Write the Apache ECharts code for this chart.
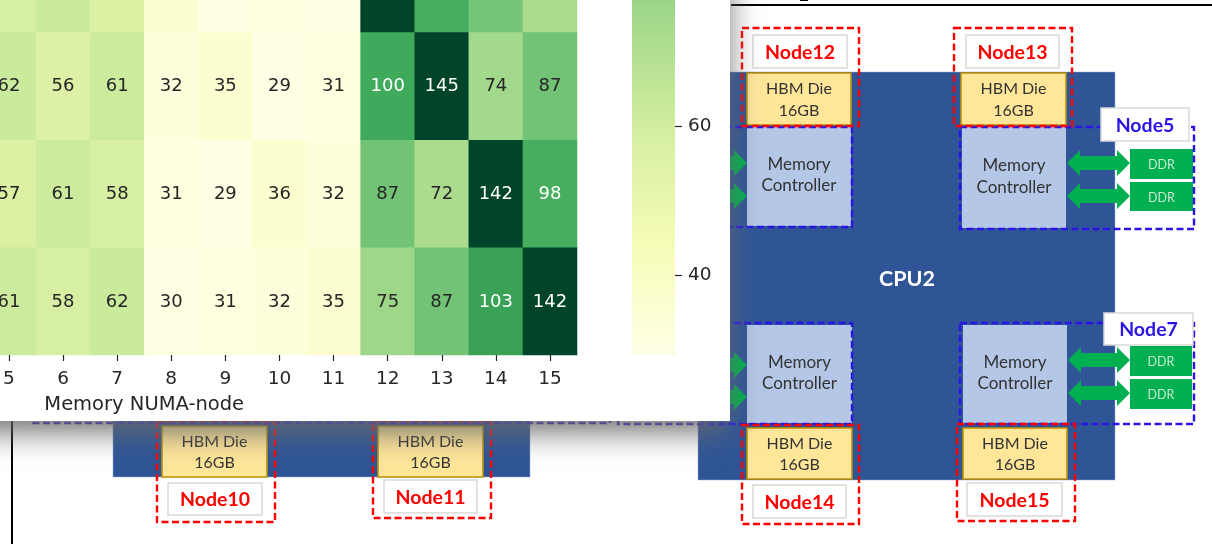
<!DOCTYPE html>
<html>
<head>
<meta charset="utf-8">
<style>html,body{margin:0;padding:0;background:#fff;overflow:hidden}#main{width:1212px;height:544px}</style>
<script src="https://cdn.jsdelivr.net/npm/echarts@6/dist/echarts.min.js"></script>
</head>
<body>
<div id="main"></div>
<script>
var nodeLabels = ['0','1','2','3','4','5','6','7','8','9','10','11','12','13','14','15'];
var rowLabels = ['15','14','13','12'];   // bottom to top, upper rows are cropped in the picture
var firstCol = 5;   // columns 0-4 are cropped too
var row12 = [58, 62, 57, 35, 30, 31, 30, 144, 98, 86, 72];  // only colours visible, estimated
var row13 = [62, 56, 61, 32, 35, 29, 31, 100, 145, 74, 87];
var row14 = [57, 61, 58, 31, 29, 36, 32, 87, 72, 142, 98];
var row15 = [61, 58, 62, 30, 31, 32, 35, 75, 87, 103, 142];
var ylgn = ['#ffffe5','#f7fcb9','#d9f0a3','#addd8e','#78c679','#41ab5d','#238443','#006837','#004529'];

var font = 'Lato';
var cells = [];
[row15, row14, row13, row12].forEach(function(row, r) {
    row.forEach(function(v, c) {
        cells.push({
            value: [c + firstCol, r, v],
            label: {color: v >= 95 ? '#ffffff' : '#262626'}
        });
    });
});

// diagram shapes, all behind the heatmap panel
var shapes = [];
function rect(x, y, w, h, fill, stroke, lw, dash, z) {
    shapes.push({
        type: 'rect', z: z || 0, silent: true,
        shape: {x: x, y: y, width: w, height: h},
        style: {fill: fill || 'transparent', stroke: stroke || null, lineWidth: lw || 0, lineDash: dash || null}
    });
}
function text(cx, cy, s, color, size, weight, z) {
    shapes.push({
        type: 'text', z: z || 0, silent: true, x: cx, y: cy,
        style: {text: s, fill: color, font: (weight || 'normal') + ' ' + size + 'px ' + font, align: 'center', verticalAlign: 'middle'}
    });
}
function cpu(x, y, w, h) { rect(x, y, w, h, '#2f5597', '#8faadc', 0.5); }
function hbm(x, y, w, h) {
    rect(x, y, w, h, '#ffe699', '#bf9000', 1.5);
    text(x + w / 2, y + h * 0.31, 'HBM Die', '#333333', 16);
    text(x + w / 2, y + h * 0.73, '16GB', '#333333', 16);
}
function ctrl(x, y, w, h) {
    rect(x, y, w, h, '#b4c7e7');
    text(x + w / 2, y + h * 0.38, 'Memory', '#333333', 17);
    text(x + w / 2, y + h * 0.595, 'Controller', '#333333', 17);
}
function nodeLabel(x, y, w, h, s, color) {
    rect(x, y, w, h, '#ffffff', '#d9d9d9', 1.5);
    text(x + w / 2, y + h / 2 + 1, s, color, 19.5, 'bold');
}
function ddr(x, y, w, h) {
    rect(x, y, w, h, '#00b050');
    text(x + w / 2, y + h / 2 + 1, 'DDR', '#c6e8d2', 12.5);
}
function arrow(x1, x2, cy) {
    shapes.push({
        type: 'polygon', z: 0, silent: true,
        shape: {points: [[x1, cy], [x1 + 13, cy - 13], [x1 + 13, cy - 7], [x2 - 13, cy - 7], [x2 - 13, cy - 13], [x2, cy],
            [x2 - 13, cy + 13], [x2 - 13, cy + 7], [x1 + 13, cy + 7], [x1 + 13, cy + 13]]},
        style: {fill: '#00b050'}
    });
}
var red = '#ff0000', blue = '#2a14e6', dash = [7, 3.5];

cpu(113, 250, 417, 227);
cpu(698, 72, 417, 408);
text(907, 279, 'CPU2', '#ffffff', 21.5, 'bold');

ctrl(747, 127, 104, 99);
ctrl(962, 127, 104, 101);
ctrl(747, 325, 105, 98);
ctrl(963, 325, 104, 98);
hbm(747, 73, 104, 52);
hbm(961, 73, 105, 52);
hbm(747, 428, 105, 51);
hbm(963, 428, 104, 51);
hbm(162, 426, 105, 51);
hbm(378, 426, 105, 51);

arrow(1067, 1130, 163);
arrow(1067, 1130, 196);
arrow(1068, 1130, 360);
arrow(1068, 1130, 393);
arrow(640, 747, 163);
arrow(640, 747, 196);
arrow(640, 747, 365);
arrow(640, 747, 397);
ddr(1130, 149, 63, 30);
ddr(1130, 182, 63, 29);
ddr(1130, 346, 62, 30);
ddr(1130, 379, 62, 30);

rect(620, 127, 232, 100, null, blue, 2.4, dash);
rect(960, 127, 234, 102, null, blue, 2.4, dash);
rect(618, 323, 234, 101, null, blue, 2.4, dash);
rect(960, 323, 234, 101, null, blue, 2.4, dash);
rect(33, 300, 577, 123, null, blue, 2.4, dash);

rect(742, 28, 117, 98, null, red, 2.4, dash);
rect(954, 28, 118, 98, null, red, 2.4, dash);
rect(742, 425, 117, 99, null, red, 2.4, dash);
rect(957, 424, 118, 97, null, red, 2.4, dash);
rect(157, 421, 118, 101, null, red, 2.4, dash);
rect(373, 421, 118, 97, null, red, 2.4, dash);

nodeLabel(753, 35, 94, 33, 'Node12', red);
nodeLabel(966, 35, 93, 33, 'Node13', red);
nodeLabel(753, 485, 93, 33, 'Node14', red);
nodeLabel(967, 483, 95, 33, 'Node15', red);
nodeLabel(168, 483, 94, 32, 'Node10', red);
nodeLabel(384, 480, 93, 33, 'Node11', red);
nodeLabel(1101, 108, 88, 33, 'Node5', blue);
nodeLabel(1104, 313, 89, 32, 'Node7', blue);

rect(731, 4, 481, 2, '#000000');
rect(800, 0, 8, 1, '#000000');
rect(11, 421, 2, 123, '#000000');

// white panel of the screenshot lying on top, with its drop shadow
shapes.push({
    type: 'rect', z: 1, silent: true,
    shape: {x: -60, y: -60, width: 790, height: 481},
    style: {fill: '#ffffff', shadowColor: 'rgba(105,105,105,1)', shadowBlur: 30, shadowOffsetX: -3, shadowOffsetY: 10}
});

var option = {
    animation: false,
    backgroundColor: '#ffffff',
    textStyle: {fontFamily: 'DejaVu Sans'},
    graphic: {elements: shapes},
    grid: [
        {left: -288.6, top: -75.7, width: 865.6, height: 430.7, containLabel: false, outerBoundsMode: 'none'},
        {left: 632, top: -470, width: 43, height: 745, containLabel: false, outerBoundsMode: 'none'}
    ],
    xAxis: [
        {
            type: 'category', gridIndex: 0, z: 5, data: nodeLabels,
            name: 'Memory NUMA-node', nameLocation: 'middle', nameGap: 40,
            nameTextStyle: {color: '#262626', fontSize: 19.5, fontFamily: 'DejaVu Sans'},
            axisLine: {show: false},
            axisTick: {show: true, alignWithLabel: true, length: 6, lineStyle: {color: '#262626', width: 1.2}},
            axisLabel: {interval: 0, color: '#262626', fontSize: 18.5, margin: 15, fontFamily: 'DejaVu Sans'},
            splitLine: {show: false}, splitArea: {show: false}
        },
        {type: 'value', gridIndex: 1, show: false}
    ],
    yAxis: [
        {
            type: 'category', gridIndex: 0, z: 5, data: rowLabels, show: false,
            splitLine: {show: false}, splitArea: {show: false}
        },
        {
            type: 'value', gridIndex: 1, z: 5, position: 'right', min: 40, max: 140, interval: 20,
            axisLine: {show: false, onZero: false},
            axisTick: {show: true, length: 7, lineStyle: {color: '#262626', width: 1.2}},
            axisLabel: {color: '#262626', fontSize: 18.5, margin: 13, fontFamily: 'DejaVu Sans'},
            splitLine: {show: false}
        }
    ],
    visualMap: {
        type: 'continuous', min: 29, max: 142, seriesIndex: 0, dimension: 2,
        calculable: false, realtime: false, hoverLink: false,
        orient: 'vertical', left: 627, top: -492, padding: 5,
        itemWidth: 43, itemHeight: 842, text: null, showLabel: false,
        inRange: {color: ylgn}
    },
    series: [{
        type: 'heatmap', xAxisIndex: 0, yAxisIndex: 0, z: 2, silent: true,
        data: cells,
        label: {show: true, fontSize: 18, offset: [0, 1], fontFamily: 'DejaVu Sans', formatter: function(p) { return p.value[2]; }},
        emphasis: {disabled: true}
    }]
};

var myChart = echarts.init(document.getElementById('main'), null, {renderer: 'canvas'});
myChart.setOption(option);
</script>
</body>
</html>
